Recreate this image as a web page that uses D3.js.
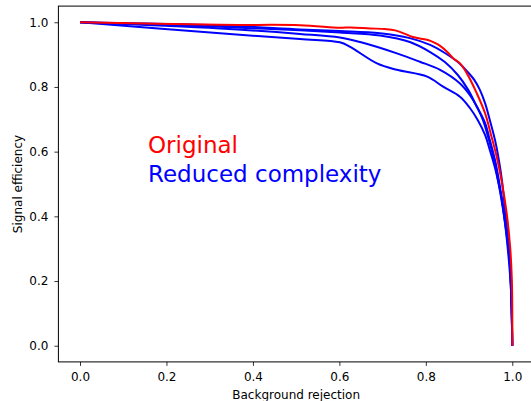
<!DOCTYPE html>
<html>
<head>
<meta charset="utf-8">
<script src="https://cdn.jsdelivr.net/npm/d3@7"></script>
<style>
  html, body { margin: 0; padding: 0; background: #fff; }
  svg { display: block; font-family: "DejaVu Sans", sans-serif; }
</style>
</head>
<body>
<svg id="chart" width="531" height="401"></svg>
<script>
// ROC curves: background rejection (x) vs signal efficiency (y)
const tickValues = [0.0, 0.2, 0.4, 0.6, 0.8, 1.0];

const originalRej = [0, 0.324, 0.509, 0.601, 0.625, 0.671, 0.706, 0.729, 0.752, 0.768, 0.786, 0.805, 0.821, 0.833, 0.849, 0.863, 0.879, 0.895, 0.918, 0.937, 0.952, 0.964, 0.975, 0.987, 0.995, 0.999, 1.0, 1.0];
const originalEff = [1.000, 0.992, 0.991, 0.983, 0.984, 0.981, 0.979, 0.975, 0.964, 0.955, 0.950, 0.945, 0.936, 0.927, 0.909, 0.889, 0.873, 0.842, 0.780, 0.719, 0.646, 0.584, 0.512, 0.410, 0.306, 0.203, 0.101, 0.0];

const reducedARej = [0, 0.324, 0.509, 0.601, 0.694, 0.763, 0.810, 0.844, 0.874, 0.895, 0.912, 0.925, 0.937, 0.948, 0.960, 0.969, 0.976, 0.981, 0.988, 0.994, 0.997, 0.999, 1.0];
const reducedAEff = [1.0, 0.990, 0.978, 0.973, 0.966, 0.951, 0.930, 0.905, 0.877, 0.849, 0.822, 0.791, 0.750, 0.698, 0.636, 0.574, 0.512, 0.450, 0.358, 0.265, 0.172, 0.080, 0.0];

const reducedBRej = [0, 0.324, 0.509, 0.601, 0.694, 0.763, 0.810, 0.844, 0.874, 0.898, 0.916, 0.932, 0.946, 0.958, 0.967, 0.976, 0.985, 0.992, 0.997, 0.999, 1.0];
const reducedBEff = [1.0, 0.986, 0.975, 0.968, 0.959, 0.939, 0.908, 0.877, 0.837, 0.791, 0.744, 0.698, 0.636, 0.574, 0.512, 0.450, 0.358, 0.265, 0.172, 0.080, 0.0];

const reducedCRej = [0, 0.324, 0.509, 0.601, 0.648, 0.733, 0.786, 0.833, 0.879, 0.902, 0.920, 0.937, 0.948, 0.960, 0.969, 0.978, 0.988, 0.995, 0.998, 1.0];
const reducedCEff = [1.0, 0.981, 0.964, 0.953, 0.939, 0.904, 0.878, 0.853, 0.811, 0.775, 0.735, 0.689, 0.636, 0.574, 0.512, 0.435, 0.342, 0.250, 0.157, 0.0];

const reducedDRej = [0, 0.324, 0.509, 0.601, 0.625, 0.687, 0.733, 0.803, 0.840, 0.879, 0.902, 0.920, 0.937, 0.948, 0.960, 0.969, 0.978, 0.988, 0.995, 0.998, 1.0];
const reducedDEff = [1.0, 0.966, 0.948, 0.938, 0.924, 0.873, 0.853, 0.832, 0.801, 0.770, 0.735, 0.698, 0.652, 0.605, 0.550, 0.497, 0.426, 0.333, 0.240, 0.148, 0.0];

const series = [
  { rej: reducedARej, eff: reducedAEff, color: "#0000ff" },
  { rej: reducedBRej, eff: reducedBEff, color: "#0000ff" },
  { rej: reducedCRej, eff: reducedCEff, color: "#0000ff" },
  { rej: reducedDRej, eff: reducedDEff, color: "#0000ff" },
  { rej: originalRej, eff: originalEff, color: "#ff0000" }
];

const svg = d3.select("#chart");
const plot = { left: 58.4, right: 533.9, top: 6.1, bottom: 361.9 };

const x = d3.scaleLinear().domain([-0.05, 1.05]).range([plot.left, plot.right]);
const y = d3.scaleLinear().domain([-0.05, 1.05]).range([plot.bottom, plot.top]);

const line = d3.line()
  .x(d => x(d[0]))
  .y(d => y(d[1]))
  .curve(d3.curveCatmullRom.alpha(0.5));

// curves (original drawn last, on top)
series.forEach(s => {
  const pts = s.rej.map((r, i) => [r, s.eff[i]]);
  svg.append("path")
    .datum(pts)
    .attr("d", line)
    .attr("fill", "none")
    .attr("stroke", s.color)
    .attr("stroke-width", 2)
    .attr("stroke-linejoin", "round");
});

// axes
const fmt = d3.format(".1f");
const xAxis = svg.append("g")
  .attr("transform", `translate(0,${plot.bottom})`)
  .call(d3.axisBottom(x).tickValues(tickValues).tickFormat(fmt).tickSize(4).tickPadding(7).tickSizeOuter(0));
const yAxis = svg.append("g")
  .attr("transform", `translate(${plot.left},0)`)
  .call(d3.axisLeft(y).tickValues(tickValues).tickFormat(fmt).tickSize(4).tickPadding(6).tickSizeOuter(0));

[xAxis, yAxis].forEach(g => {
  g.select(".domain").remove();
  g.selectAll("line").attr("stroke", "#000").attr("stroke-width", 0.8);
  g.selectAll("text").attr("fill", "#000").attr("font-size", 12).attr("font-family", "DejaVu Sans, sans-serif");
});

// frame
svg.append("rect")
  .attr("x", plot.left).attr("y", plot.top)
  .attr("width", plot.right - plot.left).attr("height", plot.bottom - plot.top)
  .attr("fill", "none").attr("stroke", "#000").attr("stroke-width", 1);

// axis titles
svg.append("text")
  .attr("x", (plot.left + plot.right) / 2).attr("y", 399)
  .attr("text-anchor", "middle").attr("font-size", 12)
  .text("Background rejection");
svg.append("text")
  .attr("transform", `translate(21.5,${(plot.top + plot.bottom) / 2}) rotate(-90)`)
  .attr("text-anchor", "middle").attr("font-size", 12)
  .text("Signal efficiency");

// legend text
svg.append("text").attr("x", 148).attr("y", 153)
  .attr("font-size", 23).attr("fill", "#ff0000").text("Original");
svg.append("text").attr("x", 148).attr("y", 182)
  .attr("font-size", 23).attr("fill", "#0000ff").text("Reduced complexity");
</script>
</body>
</html>
